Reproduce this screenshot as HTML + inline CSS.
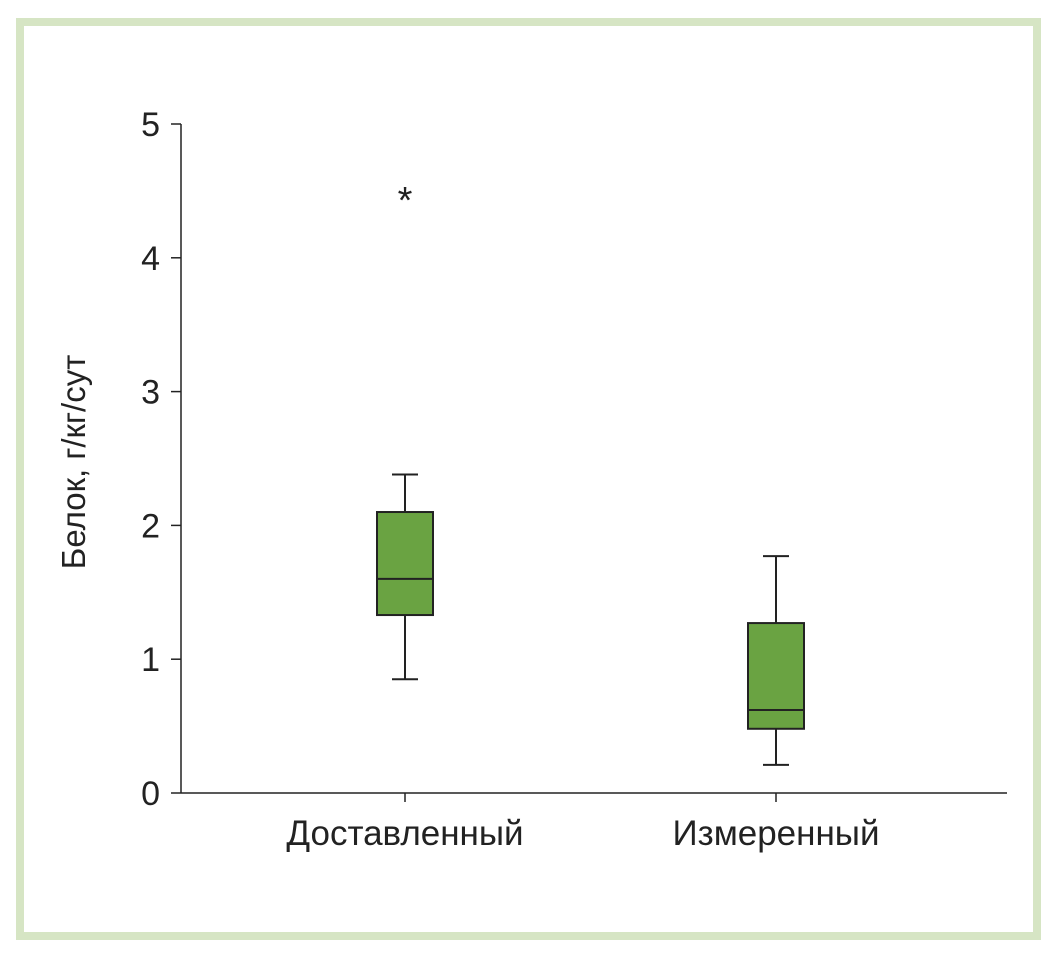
<!DOCTYPE html>
<html><head><meta charset="utf-8"><style>
html,body{margin:0;padding:0;background:#fff}
svg{display:block}
text{font-family:"Liberation Sans","DejaVu Sans",sans-serif;fill:#222}
</style></head><body>
<svg width="1057" height="954" viewBox="0 0 1057 954">
<rect x="20" y="22" width="1017" height="914" fill="none" stroke="#d6e5c4" stroke-width="8"/>
<g id="axes"></g>
<g id="boxes"></g>
</svg>
<script>
const categories=["Доставленный","Измеренный"];
const q1=[1.33,0.48];
const median=[1.6,0.62];
const q3=[2.1,1.27];
const whiskLow=[0.85,0.21];
const whiskHigh=[2.38,1.77];
const outliers=[[4.5],[]];
const yTicks=[0,1,2,3,4,5];
const NS="http://www.w3.org/2000/svg";
const x0=181,x1=1007,yBase=793,yTop=124;
const y=v=>yBase-(v/5)*(yBase-yTop);
const xc=[405,776];
const xpos=i=>xc[i];
function mk(tag,attrs,parent,txt){const e=document.createElementNS(NS,tag);for(const k in attrs)e.setAttribute(k,attrs[k]);if(txt!==undefined)e.textContent=txt;parent.appendChild(e);return e;}
const ax=document.getElementById('axes'),bx=document.getElementById('boxes');
let e=mk('line',{x1:x0,y1:yTop,x2:x0,y2:yBase,stroke:'#222','stroke-width':1.5},ax);


e=mk('line',{x1:x0,y1:yBase,x2:x1,y2:yBase,stroke:'#222','stroke-width':1.5},ax);


yTicks.forEach(t=>{
 let l=mk('line',{x1:x0-10,y1:y(t),x2:x0,y2:y(t),stroke:'#222','stroke-width':1.5},ax);
 
 
 let tx=mk('text',{x:x0-21,y:y(t)+12,'font-size':34,'text-anchor':'end'},ax,String(t));
 
 
});
e=mk('text',{x:0,y:0,'font-size':33,'text-anchor':'middle',transform:'translate(85,462) rotate(-90)'},ax,'Белок, г/кг/сут');


categories.forEach((c,i)=>{
 const cx=xpos(i);
 let l=mk('line',{x1:cx,y1:yBase,x2:cx,y2:yBase+9,stroke:'#222','stroke-width':1.5},ax);
 
 
 let tx=mk('text',{x:cx,y:yBase+52,'font-size':35,'text-anchor':'middle'},ax,c);
 
 
 const g=mk('g',{},bx);
 
 
 const st={stroke:'#222','stroke-width':2};
 mk('line',Object.assign({x1:cx,y1:y(whiskHigh[i]),x2:cx,y2:y(q3[i])},st),g);
 mk('line',Object.assign({x1:cx,y1:y(q1[i]),x2:cx,y2:y(whiskLow[i])},st),g);
 mk('line',Object.assign({x1:cx-13,y1:y(whiskHigh[i]),x2:cx+13,y2:y(whiskHigh[i])},st),g);
 mk('line',Object.assign({x1:cx-13,y1:y(whiskLow[i]),x2:cx+13,y2:y(whiskLow[i])},st),g);
 mk('rect',{x:cx-28,y:y(q3[i]),width:56,height:y(q1[i])-y(q3[i]),fill:'#6aa342',stroke:'#222','stroke-width':2},g);
 mk('line',Object.assign({x1:cx-28,y1:y(median[i]),x2:cx+28,y2:y(median[i])},st),g);
 outliers[i].forEach(o=>{
  let t=mk('text',{x:cx,y:y(o)+22,'font-size':38,'text-anchor':'middle'},g,'*');
  
  
 });
});
</script>
</body></html>
